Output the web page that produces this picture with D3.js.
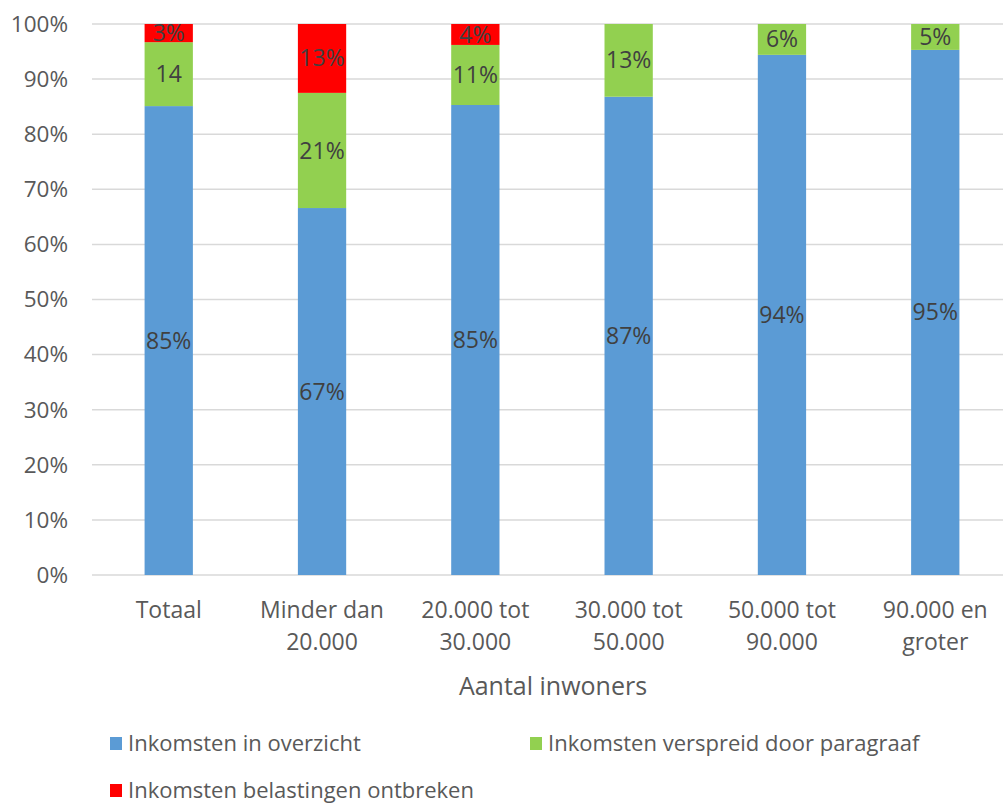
<!DOCTYPE html>
<html>
<head>
<meta charset="utf-8">
<script src="https://cdn.jsdelivr.net/npm/d3@7"></script>
<style>
  body { margin: 0; background: #fff; }
  text { font-family: "Open Sans", sans-serif; }
</style>
</head>
<body>
<svg id="chart" width="1003" height="805"></svg>
<script>
// categories (x axis), split into label lines
const categories = ["Totaal", "Minder dan 20.000", "20.000 tot 30.000", "30.000 tot 50.000", "50.000 tot 90.000", "90.000 en groter"];
const categoryLines = [["Totaal"], ["Minder dan", "20.000"], ["20.000 tot", "30.000"], ["30.000 tot", "50.000"], ["50.000 tot", "90.000"], ["90.000 en", "groter"]];

const seriesNames = ["Inkomsten in overzicht", "Inkomsten verspreid door paragraaf", "Inkomsten belastingen ontbreken"];
const seriesColors = ["#5B9BD5", "#92D050", "#FF0000"];

// values in percent
const overzicht = [85.1, 66.6, 85.3, 86.8, 94.4, 95.3];
const verspreid = [11.6, 20.9, 10.9, 13.2, 5.6, 4.7];
const ontbreken = [3.3, 12.5, 3.8, 0, 0, 0];

// data labels as shown
const overzichtLabels = ["85%", "67%", "85%", "87%", "94%", "95%"];
const verspreidLabels = ["14", "21%", "11%", "13%", "6%", "5%"];
const ontbrekenLabels = ["3%", "13%", "4%", "", "", ""];

const yTicks = [0, 10, 20, 30, 40, 50, 60, 70, 80, 90, 100];

const svg = d3.select("#chart");
const margin = {left: 92, right: -9, top: 24, bottom: 230};
const width = 1003, height = 805;

let x = d3.scaleBand()
    .domain(categories)
    .range([margin.left, width - margin.right])
    .paddingInner(0.685)
    .paddingOuter(0.343);

let y = d3.scaleLinear()
    .domain([0, 100])
    .range([575, margin.top]);

// gridlines
svg.append("g")
    .selectAll("line")
    .data(yTicks)
    .enter().append("line")
    .attr("x1", margin.left)
    .attr("x2", width)
    .attr("y1", d => y(d))
    .attr("y2", d => y(d))
    .attr("stroke", "#D9D9D9")
    .attr("stroke-width", 1.5);

// y tick labels
svg.append("g")
    .selectAll("text")
    .data(yTicks)
    .enter().append("text")
    .attr("x", 68)
    .attr("y", d => y(d))
    .attr("dy", "0.35em")
    .attr("text-anchor", "end")
    .attr("fill", "#595959")
    .style("font-size", "22.5px")
    .text(d => d + "%");

// stack the series
let rows = categories.map((c, i) => ({cat: c, s0: overzicht[i], s1: verspreid[i], s2: ontbreken[i]}));
let stack = d3.stack().keys(["s0", "s1", "s2"])(rows);
let labelSets = [overzichtLabels, verspreidLabels, ontbrekenLabels];

stack.forEach(function(layer, li) {
    let g = svg.append("g");
    g.selectAll("rect")
        .data(layer)
        .enter().append("rect")
        .attr("x", d => x(d.data.cat))
        .attr("width", x.bandwidth())
        .attr("y", d => y(d[1]))
        .attr("height", d => y(d[0]) - y(d[1]))
        .attr("fill", seriesColors[li]);

    g.selectAll("text")
        .data(layer)
        .enter().append("text")
        .attr("x", d => x(d.data.cat) + x.bandwidth() / 2)
        .attr("y", d => y((d[0] + d[1]) / 2))
        .attr("dy", "0.35em")
        .attr("text-anchor", "middle")
        .attr("fill", "#404040")
        .style("font-size", "23px")
        .text((d, i) => labelSets[li][i]);
});

// x axis labels
let xl = svg.append("g")
    .selectAll("text")
    .data(categories)
    .enter().append("text")
    .attr("x", d => x(d) + x.bandwidth() / 2)
    .attr("y", 618)
    .attr("text-anchor", "middle")
    .attr("fill", "#595959")
    .style("font-size", "23px");

xl.selectAll("tspan")
    .data((d, i) => categoryLines[i])
    .enter().append("tspan")
    .attr("x", function() { return d3.select(this.parentNode).attr("x"); })
    .attr("dy", (d, i) => i == 0 ? 0 : 32)
    .text(d => d);

// axis title
svg.append("text")
    .attr("x", 553)
    .attr("y", 695)
    .attr("text-anchor", "middle")
    .attr("fill", "#595959")
    .style("font-size", "25px")
    .text("Aantal inwoners");

// legend
let legendPos = [[110, 743], [530, 743], [110, 790]];
let legend = svg.append("g")
    .selectAll("g")
    .data(seriesNames)
    .enter().append("g")
    .attr("transform", (d, i) => "translate(" + legendPos[i][0] + "," + legendPos[i][1] + ")");

legend.append("rect")
    .attr("x", 0)
    .attr("y", -6)
    .attr("width", 12)
    .attr("height", 13)
    .attr("fill", (d, i) => seriesColors[i]);

legend.append("text")
    .attr("x", 18)
    .attr("y", 0)
    .attr("dy", "0.35em")
    .attr("fill", "#595959")
    .style("font-size", "22px")
    .text(d => d);
</script>
</body>
</html>
